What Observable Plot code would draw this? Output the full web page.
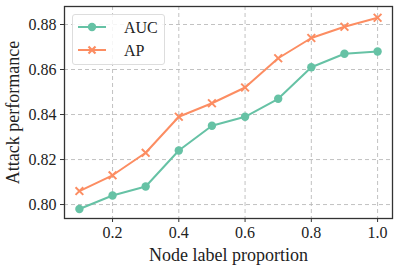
<!DOCTYPE html>
<html><head><meta charset="utf-8">
<script src="https://cdn.jsdelivr.net/npm/d3@7"></script>
<script src="https://cdn.jsdelivr.net/npm/@observablehq/plot@0.6"></script>
<style>
body{margin:0;background:#fff;}
#wrap{position:relative;width:399px;height:270px;font-family:"Liberation Serif","DejaVu Serif",serif;}
#legend{position:absolute;left:72px;top:14px;width:91px;height:49px;border:1px solid #ddd;border-radius:3px;background:rgba(255,255,255,0.85);color:#222;}
#legend svg{position:absolute;left:0;top:0;}
</style></head>
<body><div id="wrap"></div>
<script>
const proportions = [0.1,0.2,0.3,0.4,0.5,0.6,0.7,0.8,0.9,1.0];
const aucValues = [0.798,0.804,0.808,0.824,0.835,0.839,0.847,0.861,0.867,0.868];
const apValues  = [0.806,0.813,0.823,0.839,0.845,0.852,0.865,0.874,0.879,0.883];
const seriesNames = ["AUC","AP"];
const seriesColors = ["#66c2a5","#fc8d62"];
const xTicks = [0.2,0.4,0.6,0.8,1.0];
const yTicks = [0.80,0.82,0.84,0.86,0.88];

const auc = proportions.map((x,i)=>({x, y:aucValues[i], s:"AUC"}));
const ap = proportions.map((x,i)=>({x, y:apValues[i], s:"AP"}));

const plot = Plot.plot({
  width:399, height:270,
  marginLeft:64, marginRight:7, marginTop:6, marginBottom:52,
  style:{fontFamily:"Liberation Serif, DejaVu Serif, serif", fontSize:"16px", color:"#222", background:"#fff"},
  x:{domain:[0.055,1.045], ticks:xTicks, tickFormat:d3.format(".1f"), label:null},
  y:{domain:[0.7938,0.888], ticks:yTicks, tickFormat:d3.format(".2f"), label:null},
  color:{domain:seriesNames, range:seriesColors},
  marks:[
    Plot.gridX(xTicks,{stroke:"#bbb", strokeOpacity:1, strokeDasharray:"4,3", strokeWidth:0.9}),
    Plot.gridY(yTicks,{stroke:"#bbb", strokeOpacity:1, strokeDasharray:"4,3", strokeWidth:0.9}),
    Plot.frame({stroke:"#333", strokeWidth:1.3}),
    Plot.axisX(xTicks,{tickSize:4, tickPadding:4, stroke:"#333", fontSize:16, tickFormat:d3.format(".1f"), label:"Node label proportion", labelAnchor:"center", labelArrow:"none", labelOffset:42}),
    Plot.axisY(yTicks,{tickSize:4, tickPadding:4, stroke:"#333", fontSize:16, tickFormat:d3.format(".2f"), label:"Attack performance", labelAnchor:"center", labelArrow:"none", labelOffset:58}),
    Plot.line(auc,{x:"x",y:"y",stroke:seriesColors[0],strokeWidth:2}),
    Plot.line(ap,{x:"x",y:"y",stroke:seriesColors[1],strokeWidth:2}),
    Plot.dot(auc,{x:"x",y:"y",fill:seriesColors[0],r:4.2,symbol:"circle"}),
    Plot.dot(ap,{x:"x",y:"y",stroke:seriesColors[1],strokeWidth:2,r:3.6,symbol:"times"})
  ]
});
plot.querySelectorAll("text").forEach(t=>{
  const g = t.closest("g[aria-label]");
  const lab = g ? g.getAttribute("aria-label") : "";
  if (lab.includes("tick label")) { t.style.fontSize="16px"; t.style.fill="#222"; }
  else if (lab.includes("label")) { t.style.fontSize="18px"; t.style.fill="#222"; }
});
const wrap = document.getElementById("wrap");
wrap.appendChild(plot);

// legend
const lg = document.createElement("div");
lg.id="legend";
const ns="http://www.w3.org/2000/svg";
const svg = document.createElementNS(ns,"svg");
svg.setAttribute("width",91); svg.setAttribute("height",49);
seriesNames.forEach((name,i)=>{
  const cy = 12+i*23;
  const l = document.createElementNS(ns,"line");
  l.setAttribute("x1",5); l.setAttribute("x2",33); l.setAttribute("y1",cy); l.setAttribute("y2",cy);
  l.setAttribute("stroke",seriesColors[i]); l.setAttribute("stroke-width",2);
  svg.appendChild(l);
  if(i===0){
    const c=document.createElementNS(ns,"circle");
    c.setAttribute("cx",19);c.setAttribute("cy",cy);c.setAttribute("r",4.2);c.setAttribute("fill",seriesColors[i]);
    svg.appendChild(c);
  } else {
    const p=document.createElementNS(ns,"path");
    p.setAttribute("d",`M15.5,${cy-3.5}L22.5,${cy+3.5}M15.5,${cy+3.5}L22.5,${cy-3.5}`);
    p.setAttribute("stroke",seriesColors[i]);p.setAttribute("stroke-width",2.2);
    svg.appendChild(p);
  }
  const t=document.createElementNS(ns,"text");
  t.setAttribute("x",51);t.setAttribute("y",cy+5.5);t.setAttribute("font-size",16);
  t.setAttribute("font-family","Liberation Serif, serif");t.setAttribute("fill","#222");
  t.textContent=name; svg.appendChild(t);
});
lg.appendChild(svg);
wrap.appendChild(lg);
</script></body></html>
